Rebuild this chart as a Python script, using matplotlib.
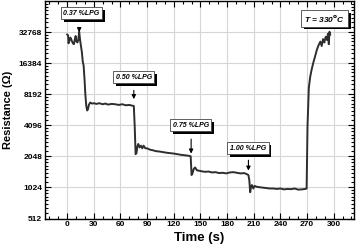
import matplotlib
matplotlib.use('Agg')
import matplotlib.pyplot as plt
import matplotlib.patheffects as pe
from matplotlib.ticker import FixedLocator, FuncFormatter, MultipleLocator

plt.rcParams['font.family'] = ['Liberation Sans', 'DejaVu Sans']

# time (s) and resistance (ohm)
t = [0, 1, 1.5, 2.5, 3.5, 4.5, 5.5, 6.5, 7.5, 8.5, 9.5, 10.5, 11.5, 12.5, 13.5, 14.5,
     15.5, 16.5, 17.5, 18.5, 19.5, 20.5, 21.5, 22.5, 23.5, 24.5, 26, 28, 30, 33, 36,
     40, 43, 46, 50, 54, 58, 62, 66, 70, 73, 75, 76, 77, 78, 79, 80, 81.5, 83, 84.5,
     86, 88, 90, 93, 96, 100, 104, 108, 112, 116, 120, 124, 128, 132, 136, 139,
     140, 141, 142.5, 144, 146, 148, 151, 155, 159, 163, 167, 171, 175, 179, 183,
     187, 191, 195, 199, 202, 204, 205, 206, 207, 208, 209.5, 211, 213, 216, 220,
     224, 228, 232, 236, 240, 244, 248, 252, 256, 260, 264, 268, 269.5, 270.5,
     272, 273.5, 275, 277, 279, 281, 283, 285, 286.5, 288, 289.5, 291, 292.5,
     293.5, 294.5, 295.2, 296]
r = [31000, 30500, 25500, 27000, 29000, 28000, 26500, 25500, 25000, 27500, 30000, 26500,
     26000, 27500, 33000, 27500, 24000, 21000, 17000, 15500, 11500, 8000, 6300, 5700,
     5900, 6500, 6800, 6650, 6700, 6600, 6700, 6550, 6650, 6500, 6600, 6550, 6450,
     6550, 6400, 6450, 6350, 6300, 4000, 2150, 2200, 2550, 2700, 2500, 2600, 2450,
     2600, 2450, 2450, 2380, 2350, 2300, 2280, 2250, 2220, 2200, 2180, 2150, 2120,
     2100, 2080, 2050, 1350, 1400, 1550, 1600, 1500, 1490, 1470, 1450, 1460, 1430,
     1440, 1410, 1420, 1400, 1430, 1440, 1420, 1400, 1410, 1380, 1350, 1200, 920,
     1050, 1080, 1000, 1060, 1040, 1030, 1020, 1010, 1000, 1000, 990, 1000, 980,
     990, 985, 1000, 975, 980, 990, 1000, 4000, 9500, 12000, 14000, 16500, 19000,
     22000, 24500, 26500, 24000, 28000, 26000, 29500, 27500, 31500, 25000, 33000,
     31000]

y_ticks = [512, 1024, 2048, 4096, 8192, 16384, 32768]
x_ticks = [0, 30, 60, 90, 120, 150, 180, 210, 240, 270, 300]
notes = ['0.37 %LPG', '0.50 %LPG', '0.75 %LPG', '1.00 %LPG']
note_x = [16, 75, 139, 203.5]
note_y = [50000, 12000, 4090, 2450]
arrow_x = [13.5, 75, 139.5, 204]
arrow_top = [38000, 9500, 3200, 2000]
arrow_bot = [30700, 6900, 2048, 1400]

fig = plt.figure(figsize=(3.57, 2.5), dpi=100)
ax = fig.add_axes([0.126, 0.126, 0.866, 0.87])
ax.plot(t, r, color='#2e2e2e', lw=1.4, zorder=3)

ax.set_yscale('log', base=2)
ax.set_ylim(512, 65536)
ax.set_xlim(-25, 323)
ax.yaxis.set_major_locator(FixedLocator(y_ticks))
ax.yaxis.set_major_formatter(FuncFormatter(lambda v, p: '%d' % v))
minors = [b * (1 + k / 8) for b in [512, 1024, 2048, 4096, 8192, 16384, 32768] for k in range(1, 8)]
ax.yaxis.set_minor_locator(FixedLocator(minors))
ax.yaxis.set_minor_formatter(FuncFormatter(lambda v, p: ''))
ax.xaxis.set_major_locator(FixedLocator(x_ticks))
ax.xaxis.set_minor_locator(MultipleLocator(10))

ax.grid(True, which='major', color='#d6d6d6', lw=0.8, zorder=0)
ax.tick_params(which='both', direction='in', top=True, right=True, width=0.8,
               labelsize=6, pad=2)
ax.tick_params(which='major', length=4)
ax.tick_params(which='minor', length=2)
for lab in ax.get_xticklabels() + ax.get_yticklabels():
    lab.set_fontweight('bold')
for s in ax.spines.values():
    s.set_linewidth(1.0)

ax.set_xlabel('Time (s)', fontsize=9.5, fontweight='bold', labelpad=3)
ax.set_ylabel('Resistance (\u03a9)', fontsize=8, fontweight='bold', labelpad=4)


def box(x, y, s, size):
    txt = ax.text(x, y, s, fontsize=size, fontweight='bold', style='italic',
                  ha='center', va='center', color='black', zorder=6,
                  bbox=dict(boxstyle='square,pad=0.35', fc='white', ec='#444444', lw=0.6))
    txt.get_bbox_patch().set_path_effects([
        pe.SimplePatchShadow(offset=(2, -2), shadow_rgbFace='black', alpha=1.0),
        pe.Normal()])


for i in range(len(notes)):
    box(note_x[i], note_y[i], notes[i], 5)
    ax.annotate('', xy=(arrow_x[i], arrow_bot[i]), xytext=(arrow_x[i], arrow_top[i]),
                arrowprops=dict(arrowstyle='-|>', color='black', lw=0.8,
                                mutation_scale=6), zorder=7)

box(289.5, 44700, 'T = 330$^{\\mathbf{o}}$C', 6)

fig.savefig('out.png', dpi=100)
